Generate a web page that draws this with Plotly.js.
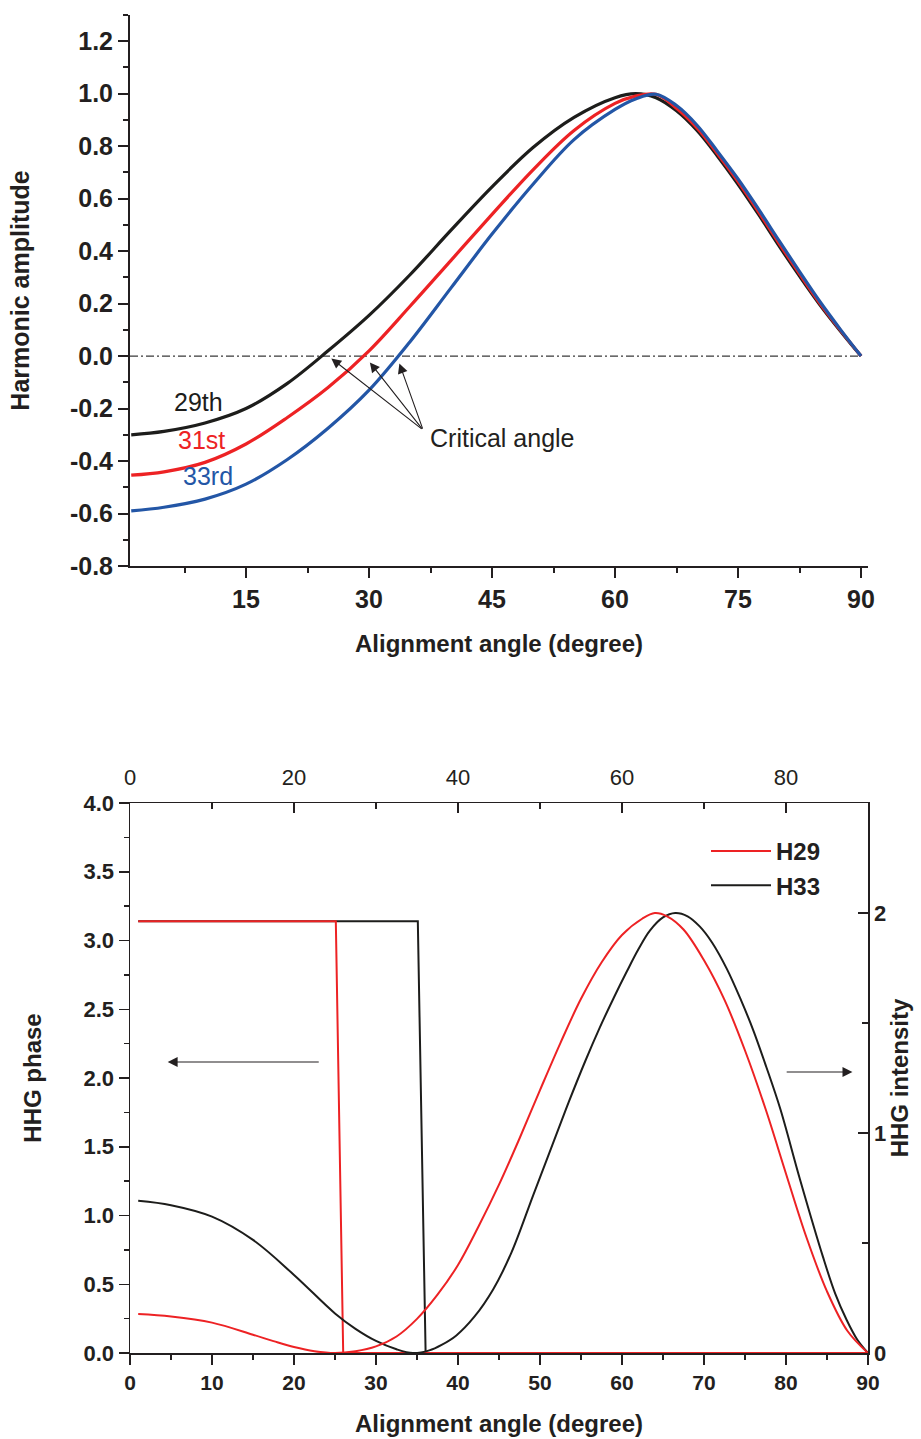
<!DOCTYPE html>
<html>
<head>
<meta charset="utf-8">
<script src="https://cdn.plot.ly/plotly-3.0.1.min.js"></script>
<style>
  html, body { margin: 0; padding: 0; background: #ffffff; }
  #chart { width: 921px; height: 1439px; }
</style>
</head>
<body>
<div id="chart"></div>
<script>
// ---- Upper panel: harmonic amplitude versus alignment angle ----
const angleDeg = [1, 5, 10, 15, 20, 25, 30, 35, 40, 45, 50, 55, 60, 62.5, 65, 67.5, 70, 72.5, 75, 77.5, 80, 82.5, 85, 87.5, 90];
const amp29 = [-0.300, -0.287, -0.255, -0.200, -0.105, 0.020, 0.155, 0.310, 0.480, 0.645, 0.795, 0.910, 0.985, 1.000, 0.985, 0.935, 0.860, 0.762, 0.655, 0.540, 0.420, 0.305, 0.195, 0.095, 0.000];
const amp31 = [-0.454, -0.441, -0.405, -0.335, -0.235, -0.120, 0.020, 0.190, 0.365, 0.540, 0.710, 0.860, 0.963, 0.991, 0.998, 0.945, 0.870, 0.771, 0.665, 0.550, 0.430, 0.313, 0.200, 0.098, 0.000];
const amp33 = [-0.590, -0.576, -0.545, -0.488, -0.395, -0.275, -0.130, 0.055, 0.260, 0.465, 0.655, 0.825, 0.940, 0.980, 0.998, 0.955, 0.880, 0.780, 0.675, 0.560, 0.440, 0.322, 0.207, 0.101, 0.000];
const harmonicNames = ['29th', '31st', '33rd'];
const ampTickVals = [-0.8, -0.6, -0.4, -0.2, 0.0, 0.2, 0.4, 0.6, 0.8, 1.0, 1.2];
const ampTickText = ['-0.8', '-0.6', '-0.4', '-0.2', '0.0', '0.2', '0.4', '0.6', '0.8', '1.0', '1.2'];
// critical angles where each amplitude changes sign (arrow tips)
const criticalAngles = [25.4, 30.1, 33.7];

// ---- Lower panel: HHG phase (left axis) and intensity (right axis) ----
const h29PhaseAngle = [1, 25.1, 26.0, 90];
const h29Phase = [3.14, 3.14, 0, 0];
const h33PhaseAngle = [1, 35.1, 36.05, 90];
const h33Phase = [3.14, 3.14, 0, 0];

const h29IntAngle = [1, 5, 10, 15, 17.5, 20, 22.5, 25, 27.5, 30, 32.5, 35, 37.5, 40, 42.5, 45, 47.5, 50, 52.5, 55, 57.5, 60, 62.5, 64, 65.5, 67.5, 70, 72.5, 75, 77.5, 80, 82.5, 85, 87.5, 90];
const h29Intensity = [0.177, 0.166, 0.138, 0.083, 0.054, 0.027, 0.008, 0.000, 0.008, 0.030, 0.075, 0.155, 0.265, 0.400, 0.575, 0.765, 0.975, 1.195, 1.410, 1.610, 1.775, 1.900, 1.975, 2.000, 1.985, 1.925, 1.785, 1.605, 1.375, 1.110, 0.815, 0.525, 0.280, 0.100, 0.000];
const h33IntAngle = [1, 5, 10, 15, 20, 25, 27.5, 30, 32.5, 34.5, 36.5, 38, 39.8, 42, 44.3, 46.5, 49.2, 51.5, 53.5, 55.5, 57.3, 59, 60.6, 62, 63.4, 65, 66.5, 68, 69.5, 71, 72.8, 74.5, 76, 77.6, 79.3, 81.7, 84.5, 86, 87.4, 88.7, 90];
const h33Intensity = [0.692, 0.672, 0.620, 0.514, 0.355, 0.180, 0.110, 0.055, 0.017, 0.000, 0.012, 0.037, 0.080, 0.165, 0.290, 0.455, 0.720, 0.945, 1.140, 1.325, 1.480, 1.615, 1.735, 1.835, 1.920, 1.980, 2.000, 1.985, 1.938, 1.865, 1.745, 1.605, 1.468, 1.300, 1.110, 0.790, 0.438, 0.270, 0.150, 0.060, 0.000];

const seriesNames = ['H29', 'H33'];

// ---- styling ----
const FONT = 'Liberation Sans, Arial, Helvetica, sans-serif';
const INK = '#231f20';
const RED = '#ed2224';
const BLUE = '#2356a6';
const BLACK = '#1d1d1b';
const bold = (size, color) => ({ family: FONT, size: size, color: color || INK, weight: 'bold' });
const plain = (size, color) => ({ family: FONT, size: size, color: color || INK });
const smooth = (color, width) => ({ color: color, width: width, shape: 'spline', smoothing: 1 });

const traces = [
  // upper panel
  { x: angleDeg, y: amp29, xaxis: 'x', yaxis: 'y', mode: 'lines', showlegend: false,
    line: smooth(BLACK, 3.2), name: harmonicNames[0] },
  { x: angleDeg, y: amp31, xaxis: 'x', yaxis: 'y', mode: 'lines', showlegend: false,
    line: smooth(RED, 3.2), name: harmonicNames[1] },
  { x: angleDeg, y: amp33, xaxis: 'x', yaxis: 'y', mode: 'lines', showlegend: false,
    line: smooth(BLUE, 3.2), name: harmonicNames[2] },

  // lower panel: intensities on the right axis
  { x: h33IntAngle, y: h33Intensity, xaxis: 'x2', yaxis: 'y3', mode: 'lines', showlegend: false,
    line: smooth(BLACK, 2), name: seriesNames[1] },
  { x: h29IntAngle, y: h29Intensity, xaxis: 'x2', yaxis: 'y3', mode: 'lines', showlegend: false,
    line: smooth(RED, 2), name: seriesNames[0] },

  // lower panel: phases on the left axis
  { x: h33PhaseAngle, y: h33Phase, xaxis: 'x2', yaxis: 'y2', mode: 'lines', showlegend: true,
    legendrank: 2, line: { color: BLACK, width: 2 }, name: seriesNames[1] },
  { x: h29PhaseAngle, y: h29Phase, xaxis: 'x2', yaxis: 'y2', mode: 'lines', showlegend: true,
    legendrank: 1, line: { color: RED, width: 2 }, name: seriesNames[0] },

  // registers the secondary (top) angle axis of the lower panel
  { x: [], y: [], xaxis: 'x3', yaxis: 'y2', mode: 'lines', showlegend: false, hoverinfo: 'skip' }
];

// pixel-based layout helpers (plot area is 130..868 horizontally)
const M = { l: 130, r: 53, t: 15, b: 86 };
const H = 1439, PH = H - M.t - M.b;
const yFrac = (py) => 1 - (py - M.t) / PH;

const axisCommon = {
  showline: true, linecolor: INK, showgrid: false, zeroline: false, tickcolor: INK
};

const arrowStyle = { text: '', showarrow: true, arrowhead: 2, arrowsize: 1.8, arrowwidth: 1.1,
  arrowcolor: INK, standoff: 0, startstandoff: 0 };

const annotations = [
  { x: 9.2, y: -0.176, xref: 'x', yref: 'y', text: harmonicNames[0], showarrow: false, font: plain(25, BLACK) },
  { x: 9.6, y: -0.320, xref: 'x', yref: 'y', text: harmonicNames[1], showarrow: false, font: plain(25, RED) },
  { x: 10.4, y: -0.458, xref: 'x', yref: 'y', text: harmonicNames[2], showarrow: false, font: plain(25, BLUE) },
  { x: 37.2, y: -0.313, xref: 'x', yref: 'y', text: 'Critical angle', showarrow: false,
    xanchor: 'left', font: plain(25, INK) }
];
// arrows from the label towards each critical angle
const tailX = 36.6, tailY = -0.282;
const headY = [-0.009, -0.024, -0.028];
criticalAngles.forEach((a, i) => {
  annotations.push(Object.assign({
    x: a, y: headY[i], xref: 'x', yref: 'y', ax: tailX, ay: tailY, axref: 'x', ayref: 'y'
  }, arrowStyle));
});
// direction arrows of the lower panel (phase -> left axis, intensity -> right axis)
annotations.push(Object.assign({
  x: 4.6, y: 2.116, xref: 'x2', yref: 'y2', ax: 23.2, ay: 2.116, axref: 'x2', ayref: 'y2'
}, arrowStyle));
annotations.push(Object.assign({
  x: 88.1, y: 2.044, xref: 'x2', yref: 'y2', ax: 79.9, ay: 2.044, axref: 'x2', ayref: 'y2'
}, arrowStyle));

const layout = {
  width: 921, height: H,
  margin: M,
  paper_bgcolor: '#ffffff', plot_bgcolor: 'rgba(0,0,0,0)',
  font: plain(20),
  showlegend: true,
  legend: {
    x: (706 - 130) / 738, y: yFrac(829), xanchor: 'left', yanchor: 'top',
    font: bold(24), itemwidth: 60, tracegroupgap: 0, bgcolor: 'rgba(0,0,0,0)', borderwidth: 0,
    traceorder: 'normal'
  },

  // upper panel axes
  xaxis: Object.assign({}, axisCommon, {
    domain: [0, 1], anchor: 'y', range: [0.85, 90.85],
    tickmode: 'linear', tick0: 0, dtick: 15, ticks: 'outside', ticklen: 10, tickwidth: 2, linewidth: 2,
    tickfont: bold(25),
    minor: { tick0: 0, dtick: 7.5, ticks: 'outside', ticklen: 5, tickwidth: 2, tickcolor: INK },
    title: { text: 'Alignment angle (degree)', font: bold(24), standoff: 23 }
  }),
  yaxis: Object.assign({}, axisCommon, {
    domain: [yFrac(566), 1], anchor: 'x', range: [-0.8, 1.3],
    tickmode: 'array', tickvals: ampTickVals, ticktext: ampTickText,
    ticks: 'outside', ticklen: 10, tickwidth: 2, linewidth: 2,
    tickfont: bold(25),
    minor: { tick0: 0, dtick: 0.1, ticks: 'outside', ticklen: 5, tickwidth: 2, tickcolor: INK },
    title: { text: 'Harmonic amplitude', font: bold(25), standoff: 33 }
  }),

  // lower panel axes
  xaxis2: Object.assign({}, axisCommon, {
    domain: [0, 1], anchor: 'y2', range: [0, 90],
    tickmode: 'linear', tick0: 0, dtick: 10, ticks: 'outside', ticklen: 10, tickwidth: 1.5, linewidth: 1.5,
    tickfont: bold(21),
    minor: { tick0: 0, dtick: 5, ticks: 'outside', ticklen: 5, tickwidth: 1.5, tickcolor: INK },
    title: { text: 'Alignment angle (degree)', font: bold(24), standoff: 22 }
  }),
  xaxis3: Object.assign({}, axisCommon, {
    overlaying: 'x2', side: 'top', anchor: 'y2', range: [0, 90],
    tickmode: 'linear', tick0: 0, dtick: 20, ticks: 'inside', ticklen: 10, tickwidth: 1.5, linewidth: 1.5,
    tickfont: plain(22), ticklabelstandoff: 8,
    minor: { tick0: 0, dtick: 10, ticks: 'inside', ticklen: 6, tickwidth: 1.5, tickcolor: INK }
  }),
  yaxis2: Object.assign({}, axisCommon, {
    domain: [0, yFrac(803)], anchor: 'x2', range: [0, 4],
    tickmode: 'linear', tick0: 0, dtick: 0.5, tickformat: '.1f', ticks: 'outside', ticklen: 10, tickwidth: 1.5, linewidth: 1.5,
    tickfont: bold(22),
    minor: { tick0: 0, dtick: 0.25, ticks: 'outside', ticklen: 5, tickwidth: 1.5, tickcolor: INK },
    title: { text: 'HHG phase', font: bold(24), standoff: 35 }
  }),
  yaxis3: Object.assign({}, axisCommon, {
    overlaying: 'y2', side: 'right', anchor: 'x2', range: [0, 2.5],
    tickmode: 'array', tickvals: [0, 1, 2], ticktext: ['0', '1', '2'],
    ticks: 'inside', ticklen: 10, tickwidth: 1.5, linewidth: 1.5,
    tickfont: bold(22),
    minor: { tick0: 0, dtick: 0.5, ticks: 'inside', ticklen: 6, tickwidth: 1.5, tickcolor: INK },
    title: { text: 'HHG intensity', font: bold(24), standoff: 6 }
  }),

  shapes: [
    // zero reference line of the amplitude panel
    { type: 'line', xref: 'x', yref: 'y', x0: 0.85, x1: 90, y0: 0, y1: 0,
      line: { color: '#3a3a3a', width: 1.2, dash: '8px,3px,2px,3px' }, layer: 'below' }
  ],
  annotations: annotations
};

Plotly.newPlot('chart', traces, layout, { staticPlot: true, displayModeBar: false });
</script>
</body>
</html>
